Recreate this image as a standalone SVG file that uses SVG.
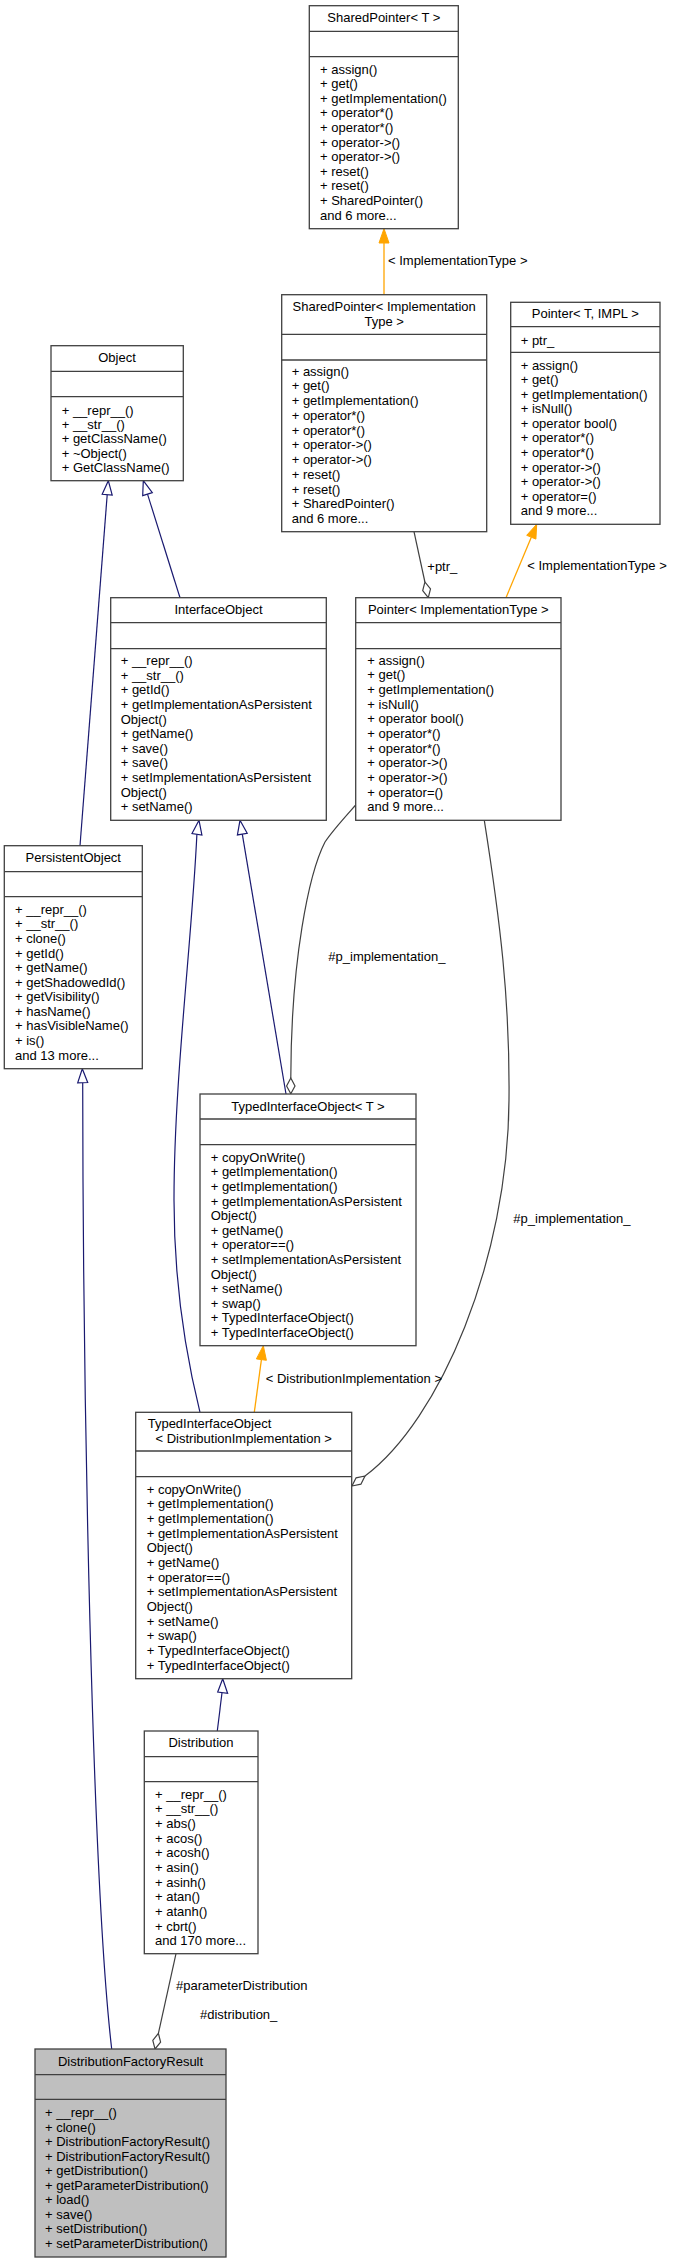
<svg xmlns="http://www.w3.org/2000/svg" width="675" height="2264" viewBox="0 0 675 2264">
<style>
text{font-family:"Liberation Sans",Arial,sans-serif;font-size:13px;fill:#000}
.c{text-anchor:middle}
.box{fill:#fff;stroke:#404040;stroke-width:1.3}
.sel{fill:#bfbfbf;stroke:#404040;stroke-width:1.3}
.sep{stroke:#404040;stroke-width:1.3}
.inh{fill:none;stroke:#191970;stroke-width:1.2}
.inhh{fill:#fff;stroke:#191970;stroke-width:1.2}
.use{fill:none;stroke:#404040;stroke-width:1.2}
.useh{fill:#fff;stroke:#404040;stroke-width:1.2}
.tpl{fill:none;stroke:#ffa500;stroke-width:1.3}
.tplh{fill:#ffa500;stroke:#ffa500;stroke-width:1}
</style>
<rect width="675" height="2264" fill="#fff"/>
<g id="connectors">
<!-- SharedPointer<IT> -> SharedPointer<T> template -->
<line class="tpl" x1="384" y1="243" x2="384" y2="294.7"/>
<polygon class="tplh" points="384,228.7 379,243 389,243"/>
<text x="388" y="265">&lt; ImplementationType &gt;</text>
<!-- +ptr_ -->
<line class="use" x1="414" y1="531.7" x2="424.9" y2="582"/>
<polygon class="useh" points="428.3,597.7 430.5,589 424.9,582 422.7,590.7"/>
<text x="427.3" y="570.5">+ptr_</text>
<!-- Pointer<IT> -> Pointer<T,IMPL> template -->
<line class="tpl" x1="506" y1="597.7" x2="531.3" y2="537.2"/>
<polygon class="tplh" points="536.7,524.3 535.9,539.1 526.7,535.3"/>
<text x="527.3" y="570">&lt; ImplementationType &gt;</text>
<!-- Object inheritance -->
<line class="inh" x1="107.2" y1="494.7" x2="80" y2="845.7"/>
<polygon class="inhh" points="108.3,480.7 112.2,495.1 102.2,494.3"/>
<line class="inh" x1="147.5" y1="494.1" x2="180" y2="597.7"/>
<polygon class="inhh" points="143.3,480.7 152.3,492.6 142.7,495.6"/>
<!-- InterfaceObject inheritance -->
<path class="inh" d="M196.9,834.2 C192,940 174,1080 174,1200 C174,1300 192,1380 200,1412.3"/>
<polygon class="inhh" points="199,820.3 201.9,835 192,833.5"/>
<line class="inh" x1="242.3" y1="834.1" x2="286" y2="1094"/>
<polygon class="inhh" points="240,820.3 247.2,833.3 237.4,834.9"/>
<!-- #p_implementation_ to TIO<T> -->
<path class="use" d="M355.7,805 C346,816 333,830 325,842 C309,873 291,960 290.8,1078"/>
<polygon class="useh" points="290.8,1093.7 295,1086 290.8,1078 286.6,1086"/>
<text x="328.3" y="961">#p_implementation_</text>
<!-- #p_implementation_ to TIO<DI> -->
<path class="use" d="M484.3,820.3 C500,920 510,1000 509,1100 C508,1260 440,1420 365,1476"/>
<polygon class="useh" points="352,1486 360.9,1484.2 365,1476 356.1,1477.8"/>
<text x="513.3" y="1222.5">#p_implementation_</text>
<!-- TIO<DI> -> TIO<T> template -->
<line class="tpl" x1="261.4" y1="1359.6" x2="254.3" y2="1412.3"/>
<polygon class="tplh" points="263.3,1345.7 266.4,1360.3 256.4,1358.9"/>
<text x="265.7" y="1383">&lt; DistributionImplementation &gt;</text>
<!-- Distribution -> TIO<DI> -->
<line class="inh" x1="222" y1="1692.7" x2="217.3" y2="1731"/>
<polygon class="inhh" points="222.7,1678.7 227.6,1693.3 217.7,1692.1"/>
<!-- PersistentObject -> DFR -->
<path class="inh" d="M82.7,1082.7 C83,1400 92,1880 111.7,2049"/>
<polygon class="inhh" points="82.3,1068.7 87.7,1082.5 77.7,1082.9"/>
<!-- Distribution -> DFR -->
<line class="use" x1="176" y1="1953.7" x2="158.4" y2="2033.4"/>
<polygon class="useh" points="155,2049 160.6,2042.1 158.4,2033.4 152.8,2040.3"/>
<text x="176" y="1990">#parameterDistribution</text>
<text x="200" y="2018.5">#distribution_</text>
</g>
<g id="SharedPointerT">
<rect class="box" x="309.3" y="5.7" width="149" height="223"/>
<line class="sep" x1="309.3" y1="31.3" x2="458.3" y2="31.3"/>
<line class="sep" x1="309.3" y1="56.7" x2="458.3" y2="56.7"/>
<text class="c" x="383.8" y="21.8">SharedPointer&lt; T &gt;</text>
<text x="320" y="73.5">+ assign()</text>
<text x="320" y="88.1">+ get()</text>
<text x="320" y="102.7">+ getImplementation()</text>
<text x="320" y="117.3">+ operator*()</text>
<text x="320" y="131.9">+ operator*()</text>
<text x="320" y="146.5">+ operator-&gt;()</text>
<text x="320" y="161.1">+ operator-&gt;()</text>
<text x="320" y="175.7">+ reset()</text>
<text x="320" y="190.3">+ reset()</text>
<text x="320" y="204.9">+ SharedPointer()</text>
<text x="320" y="219.5">and 6 more...</text>
</g>
<g id="SharedPointerIT">
<rect class="box" x="281.7" y="294.7" width="205" height="237"/>
<line class="sep" x1="281.7" y1="334.3" x2="486.7" y2="334.3"/>
<line class="sep" x1="281.7" y1="360" x2="486.7" y2="360"/>
<text class="c" x="384.2" y="310.5">SharedPointer&lt; Implementation</text>
<text class="c" x="384.2" y="325.5">Type &gt;</text>
<text x="291.7" y="375.5">+ assign()</text>
<text x="291.7" y="390.3">+ get()</text>
<text x="291.7" y="405">+ getImplementation()</text>
<text x="291.7" y="419.8">+ operator*()</text>
<text x="291.7" y="434.6">+ operator*()</text>
<text x="291.7" y="449.4">+ operator-&gt;()</text>
<text x="291.7" y="464.1">+ operator-&gt;()</text>
<text x="291.7" y="478.9">+ reset()</text>
<text x="291.7" y="493.7">+ reset()</text>
<text x="291.7" y="508.4">+ SharedPointer()</text>
<text x="291.7" y="523.2">and 6 more...</text>
</g>
<g id="PointerTIMPL">
<rect class="box" x="510.7" y="302.3" width="149.3" height="222"/>
<line class="sep" x1="510.7" y1="326.7" x2="660" y2="326.7"/>
<line class="sep" x1="510.7" y1="352.3" x2="660" y2="352.3"/>
<text class="c" x="585.3" y="317.8">Pointer&lt; T, IMPL &gt;</text>
<text x="520.7" y="344.5">+ ptr_</text>
<text x="520.7" y="369.5">+ assign()</text>
<text x="520.7" y="384.1">+ get()</text>
<text x="520.7" y="398.6">+ getImplementation()</text>
<text x="520.7" y="413.2">+ isNull()</text>
<text x="520.7" y="427.8">+ operator bool()</text>
<text x="520.7" y="442.4">+ operator*()</text>
<text x="520.7" y="456.9">+ operator*()</text>
<text x="520.7" y="471.5">+ operator-&gt;()</text>
<text x="520.7" y="486.1">+ operator-&gt;()</text>
<text x="520.7" y="500.6">+ operator=()</text>
<text x="520.7" y="515.2">and 9 more...</text>
</g>
<g id="Object">
<rect class="box" x="51" y="345.7" width="132.3" height="135"/>
<line class="sep" x1="51" y1="371.3" x2="183.3" y2="371.3"/>
<line class="sep" x1="51" y1="396.7" x2="183.3" y2="396.7"/>
<text class="c" x="117" y="361.8">Object</text>
<text x="61.7" y="414.5">+ __repr__()</text>
<text x="61.7" y="428.8">+ __str__()</text>
<text x="61.7" y="443.2">+ getClassName()</text>
<text x="61.7" y="457.5">+ ~Object()</text>
<text x="61.7" y="471.5">+ GetClassName()</text>
</g>
<g id="InterfaceObject">
<rect class="box" x="110.7" y="597.7" width="215.6" height="222.6"/>
<line class="sep" x1="110.7" y1="622.7" x2="326.3" y2="622.7"/>
<line class="sep" x1="110.7" y1="648.7" x2="326.3" y2="648.7"/>
<text class="c" x="218.5" y="613.8">InterfaceObject</text>
<text x="120.7" y="665.2">+ __repr__()</text>
<text x="120.7" y="679.8">+ __str__()</text>
<text x="120.7" y="694.4">+ getId()</text>
<text x="120.7" y="709">+ getImplementationAsPersistent</text>
<text x="120.7" y="723.6">Object()</text>
<text x="120.7" y="738.2">+ getName()</text>
<text x="120.7" y="752.8">+ save()</text>
<text x="120.7" y="767.4">+ save()</text>
<text x="120.7" y="782">+ setImplementationAsPersistent</text>
<text x="120.7" y="796.6">Object()</text>
<text x="120.7" y="811.2">+ setName()</text>
</g>
<g id="PointerIT">
<rect class="box" x="355.7" y="597.7" width="205.3" height="222.6"/>
<line class="sep" x1="355.7" y1="622.7" x2="561" y2="622.7"/>
<line class="sep" x1="355.7" y1="648.7" x2="561" y2="648.7"/>
<text class="c" x="458.3" y="613.8">Pointer&lt; ImplementationType &gt;</text>
<text x="367.3" y="664.5">+ assign()</text>
<text x="367.3" y="679.2">+ get()</text>
<text x="367.3" y="693.8">+ getImplementation()</text>
<text x="367.3" y="708.5">+ isNull()</text>
<text x="367.3" y="723.2">+ operator bool()</text>
<text x="367.3" y="737.9">+ operator*()</text>
<text x="367.3" y="752.5">+ operator*()</text>
<text x="367.3" y="767.2">+ operator-&gt;()</text>
<text x="367.3" y="781.9">+ operator-&gt;()</text>
<text x="367.3" y="796.5">+ operator=()</text>
<text x="367.3" y="811.2">and 9 more...</text>
</g>
<g id="PersistentObject">
<rect class="box" x="4.3" y="845.7" width="138" height="223"/>
<line class="sep" x1="4.3" y1="871.7" x2="142.3" y2="871.7"/>
<line class="sep" x1="4.3" y1="896.7" x2="142.3" y2="896.7"/>
<text class="c" x="73.3" y="861.8">PersistentObject</text>
<text x="15" y="913.8">+ __repr__()</text>
<text x="15" y="928.4">+ __str__()</text>
<text x="15" y="942.9">+ clone()</text>
<text x="15" y="957.5">+ getId()</text>
<text x="15" y="972.1">+ getName()</text>
<text x="15" y="986.7">+ getShadowedId()</text>
<text x="15" y="1001.2">+ getVisibility()</text>
<text x="15" y="1015.8">+ hasName()</text>
<text x="15" y="1030.4">+ hasVisibleName()</text>
<text x="15" y="1044.9">+ is()</text>
<text x="15" y="1059.5">and 13 more...</text>
</g>
<g id="TypedInterfaceObjectT">
<rect class="box" x="200" y="1094" width="216" height="251.7"/>
<line class="sep" x1="200" y1="1119" x2="416" y2="1119"/>
<line class="sep" x1="200" y1="1144.7" x2="416" y2="1144.7"/>
<text class="c" x="308" y="1110.5">TypedInterfaceObject&lt; T &gt;</text>
<text x="210.7" y="1161.8">+ copyOnWrite()</text>
<text x="210.7" y="1176.4">+ getImplementation()</text>
<text x="210.7" y="1191">+ getImplementation()</text>
<text x="210.7" y="1205.5">+ getImplementationAsPersistent</text>
<text x="210.7" y="1220.1">Object()</text>
<text x="210.7" y="1234.7">+ getName()</text>
<text x="210.7" y="1249.3">+ operator==()</text>
<text x="210.7" y="1263.9">+ setImplementationAsPersistent</text>
<text x="210.7" y="1278.5">Object()</text>
<text x="210.7" y="1293">+ setName()</text>
<text x="210.7" y="1307.6">+ swap()</text>
<text x="210.7" y="1322.2">+ TypedInterfaceObject()</text>
<text x="210.7" y="1336.8">+ TypedInterfaceObject()</text>
</g>
<g id="TypedInterfaceObjectDI">
<rect class="box" x="135.7" y="1412.3" width="216" height="266.4"/>
<line class="sep" x1="135.7" y1="1451" x2="351.7" y2="1451"/>
<line class="sep" x1="135.7" y1="1476.7" x2="351.7" y2="1476.7"/>
<text x="147.7" y="1428.2">TypedInterfaceObject</text>
<text class="c" x="243.7" y="1443.2">&lt; DistributionImplementation &gt;</text>
<text x="146.7" y="1493.5">+ copyOnWrite()</text>
<text x="146.7" y="1508.2">+ getImplementation()</text>
<text x="146.7" y="1522.8">+ getImplementation()</text>
<text x="146.7" y="1537.5">+ getImplementationAsPersistent</text>
<text x="146.7" y="1552.2">Object()</text>
<text x="146.7" y="1566.8">+ getName()</text>
<text x="146.7" y="1581.5">+ operator==()</text>
<text x="146.7" y="1596.2">+ setImplementationAsPersistent</text>
<text x="146.7" y="1610.9">Object()</text>
<text x="146.7" y="1625.5">+ setName()</text>
<text x="146.7" y="1640.2">+ swap()</text>
<text x="146.7" y="1654.9">+ TypedInterfaceObject()</text>
<text x="146.7" y="1669.5">+ TypedInterfaceObject()</text>
</g>
<g id="Distribution">
<rect class="box" x="144.3" y="1731" width="113.7" height="222.7"/>
<line class="sep" x1="144.3" y1="1756.7" x2="258" y2="1756.7"/>
<line class="sep" x1="144.3" y1="1781.7" x2="258" y2="1781.7"/>
<text class="c" x="201" y="1747.2">Distribution</text>
<text x="155" y="1798.5">+ __repr__()</text>
<text x="155" y="1813.2">+ __str__()</text>
<text x="155" y="1827.8">+ abs()</text>
<text x="155" y="1842.5">+ acos()</text>
<text x="155" y="1857.2">+ acosh()</text>
<text x="155" y="1871.8">+ asin()</text>
<text x="155" y="1886.5">+ asinh()</text>
<text x="155" y="1901.2">+ atan()</text>
<text x="155" y="1915.9">+ atanh()</text>
<text x="155" y="1930.5">+ cbrt()</text>
<text x="155" y="1945.2">and 170 more...</text>
</g>
<g id="DistributionFactoryResult">
<rect class="sel" x="35" y="2049" width="191" height="208"/>
<line class="sep" x1="35" y1="2074.7" x2="226" y2="2074.7"/>
<line class="sep" x1="35" y1="2099.3" x2="226" y2="2099.3"/>
<text class="c" x="130.5" y="2065.5">DistributionFactoryResult</text>
<text x="45" y="2117.2">+ __repr__()</text>
<text x="45" y="2131.7">+ clone()</text>
<text x="45" y="2146.2">+ DistributionFactoryResult()</text>
<text x="45" y="2160.7">+ DistributionFactoryResult()</text>
<text x="45" y="2175.2">+ getDistribution()</text>
<text x="45" y="2189.8">+ getParameterDistribution()</text>
<text x="45" y="2204.3">+ load()</text>
<text x="45" y="2218.8">+ save()</text>
<text x="45" y="2233.3">+ setDistribution()</text>
<text x="45" y="2247.8">+ setParameterDistribution()</text>
</g>
</svg>
